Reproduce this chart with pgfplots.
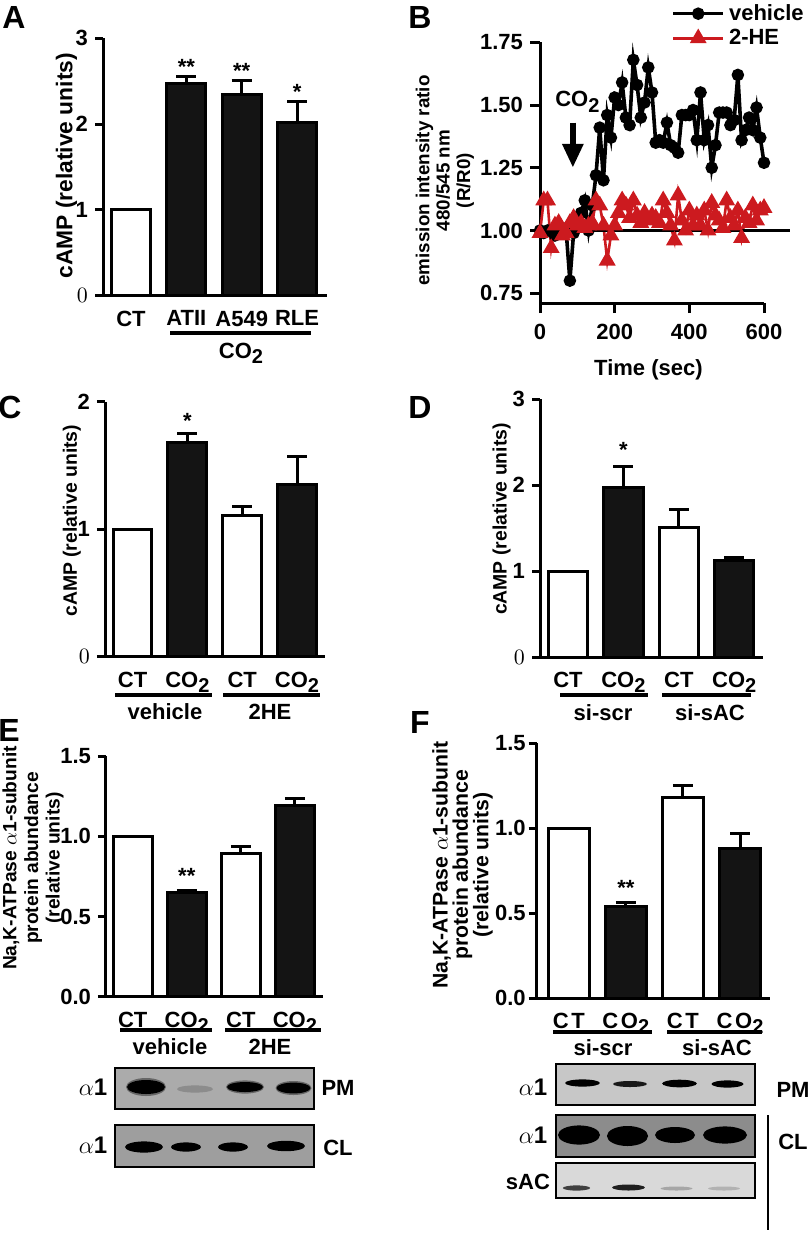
\documentclass[border=0pt]{standalone}
\usepackage{fontspec}
\setmainfont{Liberation Sans}
\usepackage{pgfplots}
\pgfplotsset{compat=1.18}
\usetikzlibrary{arrows.meta}
\definecolor{barblack}{HTML}{141414}
\definecolor{hered}{HTML}{CC1A1F}
\newcommand\lbl{\bfseries\fontsize{11}{12}\selectfont}
\newcommand\sub[1]{\raisebox{-0.45ex}{\fontsize{10}{10}\selectfont #1}}
\newcommand\coo{CO\sub{2}}
\newcommand\alp{{\fontsize{12}{12}\selectfont$\alpha$1}}
\pgfplotsset{
 px at/.style 2 args={at={({#1*0.5pt},{-#2*0.5pt})}, anchor=south west},
 panel/.style={scale only axis, axis lines=left, axis line style={-, line width=1.5pt},
   tick align=outside, major tick length=4pt, tick style={line width=1.5pt, black},
   ticklabel style={font=\lbl}, label style={font=\lbl}, clip=false,
   /pgf/number format/assume math mode=true},
 barpanel/.style={panel, xtick={0,1,2,3}, major x tick style={draw=none}},
 wbar/.style={ybar, bar shift=0pt, bar width=#1, fill=white, draw=black, line width=1.5pt},
 bbar/.style={ybar, bar shift=0pt, bar width=#1, fill=barblack, draw=black, line width=1.5pt},
 eb/.style={error bars/.cd, y dir=plus, y explicit, error bar style={line width=1.5pt, black},
   error mark options={rotate=90, mark size=5pt, line width=1.5pt, black}},
}
\begin{document}
\begin{tikzpicture}

% ---------------- Panel A
\begin{axis}[barpanel, px at={103}{295.7}, width=112pt, height=128.7pt,
  xmin=-0.506, xmax=3.54, ymin=0, ymax=3, ytick={0,1,2,3}, yticklabels={$0$,1,2,3},
  xticklabels={CT,ATII,A549,RLE},
  ylabel={cAMP (relative units)}, ylabel style={font=\bfseries\fontsize{11.4}{12}\selectfont, inner sep=0pt, at={(axis description cs:-0.163,0.505)},anchor=center}]
\addplot[wbar=0.7] coordinates {(0,1)};
\addplot[bbar=0.7, eb] coordinates {(1,2.47) +- (0,0.08) (2,2.34) +- (0,0.17) (3,2.02) +- (0,0.24)};
\node[font=\lbl, anchor=south, inner sep=0pt] at (axis cs:1,2.57) {**};
\node[font=\lbl, anchor=south, inner sep=0pt] at (axis cs:2,2.53) {**};
\node[font=\lbl, anchor=south, inner sep=0pt] at (axis cs:3,2.28) {*};
\end{axis}

% ---------------- Panel B
\begin{axis}[panel, px at={540}{303}, width=112pt, height=130.35pt,
  xmin=0, xmax=600, ymin=0.711, ymax=1.75, xtick={0,200,400,600},
  ytick={0.75,1,1.25,1.5,1.75}, major tick length=5pt,
  yticklabel style={/pgf/number format/.cd, fixed, fixed zerofill, precision=2},
  xticklabel style={yshift=-2pt},
  xlabel={Time (sec)}, xlabel style={at={(axis description cs:0.484,-0.258)}, anchor=center},
  ylabel={emission intensity ratio\\480/545 nm\\(R/R0)},
  ylabel style={align=center, inner sep=0pt, font=\bfseries\fontsize{9.4}{10.2}\selectfont, at={(axis description cs:-0.425,0.47)}, anchor=center},
  legend style={draw=none, fill=none, at={(axis description cs:0.585,1.163)}, anchor=north west,
    font=\lbl, row sep=-1pt, inner sep=0pt, /tikz/every even column/.append style={column sep=3pt}},
  legend cell align=left,
  legend image code/.code={\draw[mark repeat=2,mark phase=2,#1] plot coordinates {(0pt,0pt) (12.5pt,0pt) (25pt,0pt)};}]
\addplot[black, line width=1.8pt, mark=*, mark size=2.2pt] coordinates {
(0,1.00)(10,0.99)(20,1.00)(30,1.00)(40,0.98)(50,1.00)(60,1.01)(70,1.00)(80,0.80)(90,0.99)
(100,1.05)(110,1.07)(120,1.12)(130,1.00)(140,1.10)(150,1.22)(160,1.41)(170,1.20)(180,1.46)(190,1.37)
(200,1.53)(210,1.50)(220,1.59)(230,1.45)(240,1.42)(250,1.68)(260,1.58)(270,1.45)(280,1.51)(290,1.65)
(300,1.55)(310,1.35)(320,1.36)(330,1.35)(340,1.43)(350,1.34)(360,1.33)(370,1.31)(380,1.46)(390,1.46)
(400,1.46)(410,1.48)(420,1.36)(430,1.55)(440,1.36)(450,1.42)(460,1.25)(470,1.34)(480,1.47)(490,1.47)
(500,1.47)(510,1.42)(520,1.44)(530,1.62)(540,1.36)(550,1.40)(560,1.45)(570,1.40)(580,1.49)(590,1.37)
(600,1.27)};
\addlegendentry{vehicle}
\addplot[hered, line width=1.3pt, mark=triangle*, mark size=3.6pt] coordinates {
(0,0.99)(10,1.12)(20,1.12)(30,0.93)(40,1.02)(50,1.03)(60,0.98)(70,0.99)(80,1.03)(90,1.05)
(100,1.02)(110,1.03)(120,1.01)(130,1.02)(140,1.03)(150,1.12)(160,1.10)(170,1.02)(180,0.88)(190,0.98)
(200,1.02)(210,1.07)(220,1.12)(230,1.10)(240,1.05)(250,1.12)(260,1.06)(270,1.03)(280,1.07)(290,1.04)
(300,1.06)(310,1.05)(320,1.03)(330,1.12)(340,1.07)(350,1.02)(360,0.96)(370,1.14)(380,1.04)(390,1.00)
(400,1.08)(410,1.02)(420,1.06)(430,1.02)(440,1.08)(450,1.00)(460,1.11)(470,1.06)(480,1.04)(490,1.01)
(500,1.12)(510,1.05)(520,1.02)(530,1.08)(540,0.97)(550,1.05)(560,1.03)(570,1.10)(580,1.04)(590,1.08)
(600,1.09)};
\addlegendentry{2-HE}
\draw[line width=1.5pt] (axis cs:0,1) -- (axis cs:670,1);
\draw[line width=3pt, -{Triangle[width=10pt,length=12pt]}] (axis cs:88,1.43) -- (axis cs:88,1.25);
\node[font=\lbl] at (axis cs:100,1.513) {\coo};
\end{axis}

% ---------------- Panel C
\begin{axis}[barpanel, px at={105}{656.7}, width=110pt, height=127.5pt,
  xmin=-0.502, xmax=3.51, ymin=0, ymax=2, ytick={0,1,2}, yticklabels={$0$,1,2},
  xticklabels={CT,\coo,CT,\coo},
  ylabel={cAMP (relative units)}, ylabel style={font=\bfseries\fontsize{9.7}{10}\selectfont, inner sep=0pt, at={(axis description cs:-0.151,0.533)},anchor=center}]
\addplot[wbar=0.71, eb] coordinates {(0,1) +- (0,0) (2,1.11) +- (0,0.07)};
\addplot[bbar=0.71, eb] coordinates {(1,1.68) +- (0,0.07) (3,1.35) +- (0,0.22)};
\node[font=\lbl, anchor=south, inner sep=0pt] at (axis cs:1,1.79) {*};
\end{axis}

% ---------------- Panel D
\begin{axis}[barpanel, px at={540}{657.3}, width=111.5pt, height=129pt,
  xmin=-0.505, xmax=3.52, ymin=0, ymax=3, ytick={0,1,2,3}, yticklabels={$0$,1,2,3},
  xticklabels={CT,\coo,CT,\coo},
  ylabel={cAMP (relative units)}, ylabel style={font=\bfseries\fontsize{9.7}{10}\selectfont, inner sep=0pt, at={(axis description cs:-0.172,0.536)},anchor=center}]
\addplot[wbar=0.71, eb] coordinates {(0,1) +- (0,0) (2,1.51) +- (0,0.21)};
\addplot[bbar=0.71, eb] coordinates {(1,1.97) +- (0,0.25) (3,1.12) +- (0,0.04)};
\node[font=\lbl, anchor=south, inner sep=0pt] at (axis cs:1,2.32) {*};
\end{axis}

% ---------------- Panel E
\begin{axis}[barpanel, px at={106}{996.7}, width=108.5pt, height=120.35pt,
  xmin=-0.494, xmax=3.52, ymin=0, ymax=1.5, ytick={0,0.5,1,1.5},
  yticklabel style={/pgf/number format/.cd, fixed, fixed zerofill, precision=1},
  xticklabels={CT,\coo,CT,\coo},
  ylabel={Na,K-ATPase $\alpha$1-subunit\\protein abundance\\(relative units)},
  ylabel style={align=center, inner sep=0pt, font=\bfseries\fontsize{9.6}{10.8}\selectfont, at={(axis description cs:-0.336,0.576)},anchor=center}]
\addplot[wbar=0.72, eb] coordinates {(0,1) +- (0,0) (2,0.89) +- (0,0.045)};
\addplot[bbar=0.72, eb] coordinates {(1,0.647) +- (0,0.018) (3,1.19) +- (0,0.045)};
\node[font=\lbl, anchor=south, inner sep=0pt] at (axis cs:1,0.70) {**};
\end{axis}

% ---------------- Panel F
\begin{axis}[barpanel, px at={536.7}{998.3}, width=116.65pt, height=127.5pt,
  xmin=-0.562, xmax=3.525, ymin=0, ymax=1.5, ytick={0,0.5,1,1.5},
  yticklabel style={xshift=2pt, /pgf/number format/.cd, fixed, fixed zerofill, precision=1},
  xticklabels={CT,\coo,CT,\coo},
  xticklabel style={font=\lbl\addfontfeature{LetterSpace=12}},
  ylabel={Na,K-ATPase $\alpha$1-subunit\\protein abundance\\(relative units)},
  ylabel style={align=center, inner sep=0pt, font=\bfseries\fontsize{10.6}{10.2}\selectfont, at={(axis description cs:-0.318,0.523)},anchor=center}]
\addplot[wbar=0.72, eb] coordinates {(0,1) +- (0,0) (2,1.18) +- (0,0.07)};
\addplot[bbar=0.72, eb] coordinates {(1,0.543) +- (0,0.022) (3,0.882) +- (0,0.09)};
\node[font=\lbl, anchor=south, inner sep=0pt] at (axis cs:1,0.60) {**};
\end{axis}

% ---------------- annotations (pixel grid)
\begin{scope}[x=0.5pt,y=-0.5pt]
\tikzset{pl/.style={font=\bfseries\fontsize{16}{16}\selectfont}, gl/.style={font=\lbl}, gline/.style={line width=2pt}}
\node[pl] at (14,17) {A};
\node[pl] at (420,17) {B};
\node[pl] at (10,407) {C};
\node[pl] at (420,407) {D};
\node[pl] at (9,730) {E};
\node[pl] at (420,722) {F};
% A
\draw[gline] (170,333) -- (311,333);
\node[gl] at (241,353) {\coo};
% C
\draw[gline] (115,695) -- (212,695);
\draw[gline] (223,695) -- (320,695);
\node[gl] at (165,712) {vehicle};
\node[gl] at (270,712) {2HE};
% D
\draw[gline] (560,695) -- (648,695);
\draw[gline] (662,695) -- (751,695);
\node[gl] at (603,713) {si-scr};
\node[gl] at (710,713) {si-sAC};
% E
\draw[gline] (120,1030) -- (212,1030);
\draw[gline] (225,1030) -- (321,1030);
\node[gl] at (170,1047) {vehicle};
\node[gl] at (270,1047) {2HE};
% F
\draw[gline] (553,1032) -- (652,1032);
\draw[gline] (667,1032) -- (762,1032);
\node[gl] at (603,1048) {si-scr};
\node[gl] at (717,1048) {si-sAC};
% E blots
\draw[fill=black!33, line width=0.6pt] (115,1068) rectangle (314,1109);
\fill[black!60] (146,1087) ellipse (10pt and 4.5pt);
\fill[black] (146,1087) ellipse (9.5pt and 3.5pt);
\fill[black!45] (195,1089) ellipse (9pt and 1.8pt);
\fill[black!60] (245,1087) ellipse (9.5pt and 3.3pt);
\fill[black] (245,1087) ellipse (9pt and 2.5pt);
\fill[black!60] (293.5,1088) ellipse (9pt and 3.5pt);
\fill[black] (293.5,1088) ellipse (8.5pt and 2.7pt);
\draw[fill=black!38, line width=0.6pt] (115,1125) rectangle (314,1167);
\fill[black] (144,1147) ellipse (9.5pt and 2.8pt);
\fill[black] (186,1147) ellipse (7.5pt and 2.3pt);
\fill[black] (233,1147) ellipse (7.5pt and 2.3pt);
\fill[black] (286,1146) ellipse (9.5pt and 2.6pt);
\node[font=\lbl] at (93,1087) {\alp};
\node[font=\lbl] at (93,1145) {\alp};
\node[gl] at (338,1088) {PM};
\node[gl] at (338,1148) {CL};
% F blots
\draw[fill=black!22, line width=0.6pt] (556,1064) rectangle (755,1105);
\fill[black] (582.5,1083) ellipse (8.7pt and 1.8pt);
\fill[black!90] (630,1084) ellipse (8.5pt and 1.5pt);
\fill[black] (679.5,1083.5) ellipse (8.7pt and 1.9pt);
\fill[black] (727.5,1084) ellipse (8pt and 1.8pt);
\draw[fill=black!45, line width=0.6pt] (556,1115) rectangle (755,1157);
\fill[black] (579,1135) ellipse (10.5pt and 4.8pt);
\fill[black] (627.5,1136) ellipse (10.3pt and 5pt);
\fill[black] (675,1135) ellipse (10pt and 4pt);
\fill[black] (725,1135) ellipse (11pt and 4.3pt);
\draw[fill=black!15, line width=0.6pt] (556,1163) rectangle (755,1198);
\fill[black!75] (576.5,1188) ellipse (6.8pt and 1.3pt);
\fill[black!88] (628.5,1187.5) ellipse (8.2pt and 1.5pt);
\fill[black!35] (676.5,1188.5) ellipse (8pt and 1pt);
\fill[black!30] (724,1188.5) ellipse (8pt and 1pt);
\node[font=\lbl] at (533,1087) {\alp};
\node[font=\lbl] at (533,1135) {\alp};
\node[gl] at (528,1182) {sAC};
\node[gl] at (793,1090) {PM};
\node[gl] at (793,1142) {CL};
\draw[line width=1pt] (768,1115) -- (768,1230);
\end{scope}
\pgfresetboundingbox
\path[use as bounding box] (0pt,0pt) rectangle (406pt,-618.5pt);
\end{tikzpicture}
\end{document}
